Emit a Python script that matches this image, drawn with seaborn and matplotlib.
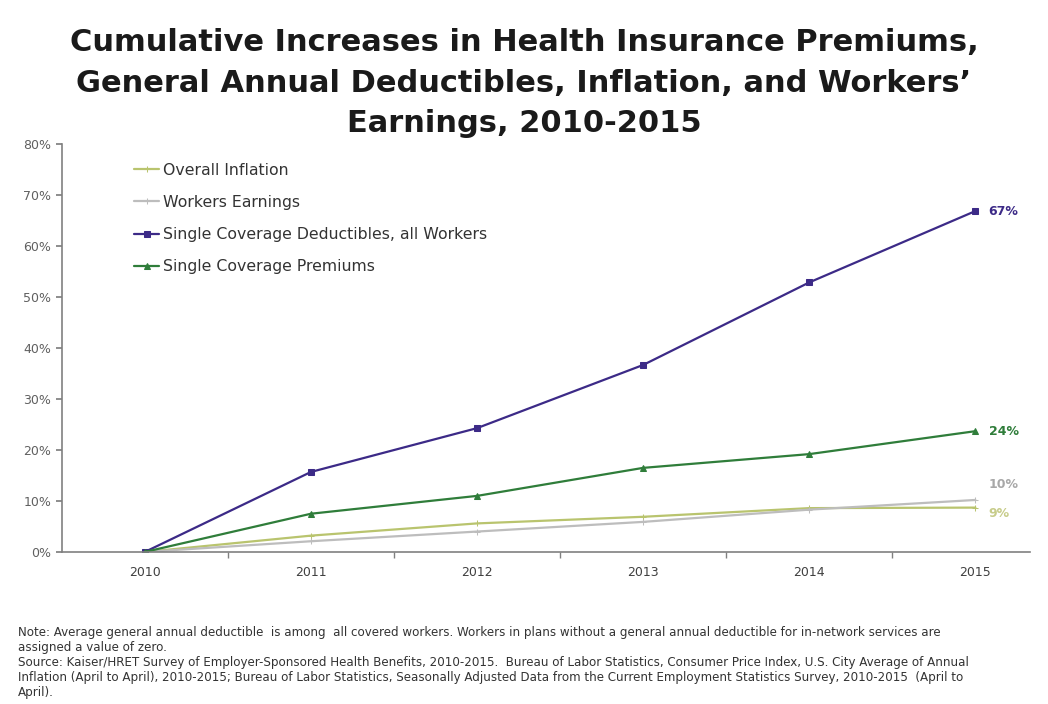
import matplotlib
matplotlib.use("Agg")
import matplotlib.pyplot as plt
import seaborn as sns
import pandas as pd
from matplotlib.ticker import FuncFormatter, FixedLocator

years = [2010, 2011, 2012, 2013, 2014, 2015]
inflation = [0.0, 3.2, 5.6, 6.9, 8.6, 8.7]
earnings = [0.0, 2.1, 4.0, 5.9, 8.3, 10.2]
deductibles = [0.0, 15.7, 24.3, 36.7, 52.9, 66.9]
premiums = [0.0, 7.5, 11.0, 16.5, 19.2, 23.7]
end_labels = ["9%", "10%", "67%", "24%"]
series_names = ["Overall Inflation", "Workers Earnings",
                "Single Coverage Deductibles, all Workers", "Single Coverage Premiums"]

sns.set_theme(style="white")
plt.rcParams['font.family'] = ['DejaVu Sans']

colors = ["#b9c46e", "#bdbdbd", "#3c2a87", "#2f7d3a"]
markers = ["+", "+", "s", "^"]
label_colors = ["#c7cc8a", "#a8a8a8", "#3c2a87", "#2f7d3a"]
label_offsets = [-1.2, 3.0, 0, 0]

fig = plt.figure(figsize=(10.48, 7.04), dpi=100)
ax = fig.add_axes([0.059, 0.216, 0.924, 0.579])

data_list = [inflation, earnings, deductibles, premiums]
for name, vals, c, m in zip(series_names, data_list, colors, markers):
    df = pd.DataFrame({"year": years, "value": vals})
    sns.lineplot(data=df, x="year", y="value", ax=ax, color=c, marker=m,
                 markersize=5, markeredgecolor=c, linewidth=1.6, label=name)

for vals, lab, c, off in zip(data_list, end_labels, label_colors, label_offsets):
    ax.text(years[-1] + 0.08, vals[-1] + off, lab, color=c, fontsize=9,
            fontweight="bold", va="center", ha="left")

ax.set_xlim(2009.5, 2015.33)
ax.set_ylim(0, 80)
ax.set_yticks(range(0, 81, 10))
ax.yaxis.set_major_formatter(FuncFormatter(lambda v, p: f"{int(v)}%"))
ax.set_xticks(years)
ax.set_xticklabels([str(y) for y in years])
ax.xaxis.set_minor_locator(FixedLocator([y + 0.5 for y in years[:-1]]))
ax.tick_params(axis="x", which="major", length=0, labelsize=9, colors="#404040", pad=10)
ax.tick_params(axis="x", which="minor", length=4, color="#808080", direction="out", bottom=True)
ax.tick_params(axis="y", length=4, color="#808080", direction="out", left=True,
               labelsize=9, labelcolor="#606060")
ax.set_xlabel("")
ax.set_ylabel("")
for s in ["top", "right"]:
    ax.spines[s].set_visible(False)
for s in ["left", "bottom"]:
    ax.spines[s].set_color("#808080")
    ax.spines[s].set_linewidth(1.2)

leg = ax.legend(loc="upper left", bbox_to_anchor=(0.06, 0.99), frameon=False,
                fontsize=11.3, handlelength=1.6, labelspacing=1.1, handletextpad=0.25)
for t in leg.get_texts():
    t.set_color("#333333")

fig.text(0.5, 0.882, "Cumulative Increases in Health Insurance Premiums,\n"
         "General Annual Deductibles, Inflation, and Workers\u2019\nEarnings, 2010-2015",
         ha="center", va="center", fontsize=22, fontweight="bold", color="#1a1a1a",
         linespacing=1.5)

note = ("Note: Average general annual deductible  is among  all covered workers. Workers in plans without a general annual deductible for in-network services are\n"
        "assigned a value of zero.\n"
        "Source: Kaiser/HRET Survey of Employer-Sponsored Health Benefits, 2010-2015.  Bureau of Labor Statistics, Consumer Price Index, U.S. City Average of Annual\n"
        "Inflation (April to April), 2010-2015; Bureau of Labor Statistics, Seasonally Adjusted Data from the Current Employment Statistics Survey, 2010-2015  (April to\n"
        "April).")
fig.text(0.017, 0.111, note, ha="left", va="top", fontsize=8.6, color="#333333", linespacing=1.2)

fig.savefig("out.png", dpi=100)
